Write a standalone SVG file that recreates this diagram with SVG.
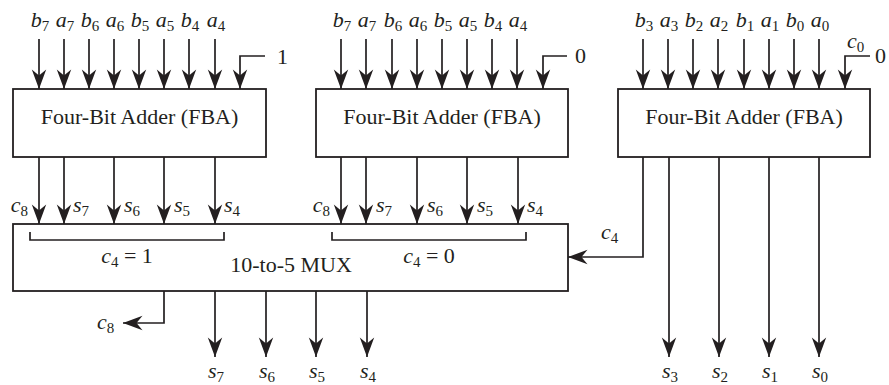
<svg xmlns="http://www.w3.org/2000/svg" width="889" height="385" viewBox="0 0 889 385" font-family="'Liberation Serif', 'Times New Roman', Times, serif">
<style>
.box{fill:#fff;stroke:#231f20;stroke-width:1.8}
.w{fill:none;stroke:#231f20;stroke-width:1.7;marker-end:url(#arr)}
.b{fill:none;stroke:#231f20;stroke-width:1.7}
text{font-size:22px;fill:#231f20}
.i{font-style:italic}
.s{font-size:15px;font-style:normal}
.m{text-anchor:middle}
.e{text-anchor:end}
</style>
<defs>
<marker id="arr" markerUnits="userSpaceOnUse" viewBox="-22 -9 24 18" refX="0" refY="0" markerWidth="24" markerHeight="18" orient="auto">
<path d="M0,0 L-19.5,-7.2 L-13.5,0 L-19.5,7.2 Z" fill="#231f20"/>
</marker>
</defs>
<g id="fba1">
<rect class="box" x="13" y="89" width="253" height="68"/>
<text class="m" x="139.5" y="124">Four-Bit Adder (FBA)</text>
</g>
<g id="fba2">
<rect class="box" x="316" y="89" width="252" height="68"/>
<text class="m" x="442" y="124">Four-Bit Adder (FBA)</text>
</g>
<g id="fba3">
<rect class="box" x="618" y="89" width="252" height="68"/>
<text class="m" x="744" y="124">Four-Bit Adder (FBA)</text>
</g>
<g id="mux">
<rect class="box" x="13" y="224" width="555" height="67"/>
<path class="b" d="M30,232 V240 H224 V232"/>
<path class="b" d="M332,232 V240 H526 V232"/>
<text class="m" x="127" y="263"><tspan class="i">c</tspan><tspan class="s" dy="4">4</tspan><tspan dy="-4"> = 1</tspan></text>
<text class="m" x="429" y="263"><tspan class="i">c</tspan><tspan class="s" dy="4">4</tspan><tspan dy="-4"> = 0</tspan></text>
<text class="m" x="291" y="272">10-to-5 MUX</text>
</g>
<g id="connectors">
<path class="w" d="M39,39V89"/><path class="w" d="M64,39V89"/><path class="w" d="M89,39V89"/><path class="w" d="M114,39V89"/>
<path class="w" d="M139,39V89"/><path class="w" d="M164,39V89"/><path class="w" d="M189,39V89"/><path class="w" d="M215,39V89"/>
<path class="w" d="M265,56 H240 V89"/>
<path class="w" d="M341,39V89"/><path class="w" d="M366,39V89"/><path class="w" d="M392,39V89"/><path class="w" d="M417,39V89"/>
<path class="w" d="M442,39V89"/><path class="w" d="M467,39V89"/><path class="w" d="M492,39V89"/><path class="w" d="M517,39V89"/>
<path class="w" d="M567,56 H543 V89"/>
<path class="w" d="M643,39V89"/><path class="w" d="M668,39V89"/><path class="w" d="M693,39V89"/><path class="w" d="M718,39V89"/>
<path class="w" d="M744,39V89"/><path class="w" d="M769,39V89"/><path class="w" d="M794,39V89"/><path class="w" d="M819,39V89"/>
<path class="w" d="M870,56 H845 V89"/>
<path class="w" d="M39,157V224"/><path class="w" d="M64,157V224"/><path class="w" d="M114,157V224"/><path class="w" d="M164,157V224"/><path class="w" d="M215,157V224"/>
<path class="w" d="M341,157V224"/><path class="w" d="M366,157V224"/><path class="w" d="M417,157V224"/><path class="w" d="M467,157V224"/><path class="w" d="M518,157V224"/>
<path class="w" d="M669,157V357"/><path class="w" d="M719,157V357"/><path class="w" d="M769,157V357"/><path class="w" d="M819,157V357"/>
<path class="w" d="M643,157 V257 H568"/>
<path class="w" d="M215,291V357"/><path class="w" d="M266,291V357"/><path class="w" d="M316,291V357"/><path class="w" d="M367,291V357"/>
<path class="w" d="M164,291 V323 H123"/>
</g>
<g id="labels" class="i">
<text class="m" x="40" y="27">b<tspan class="s" dy="4">7</tspan></text>
<text class="m" x="65" y="27">a<tspan class="s" dy="4">7</tspan></text>
<text class="m" x="90" y="27">b<tspan class="s" dy="4">6</tspan></text>
<text class="m" x="115" y="27">a<tspan class="s" dy="4">6</tspan></text>
<text class="m" x="140" y="27">b<tspan class="s" dy="4">5</tspan></text>
<text class="m" x="165" y="27">a<tspan class="s" dy="4">5</tspan></text>
<text class="m" x="190" y="27">b<tspan class="s" dy="4">4</tspan></text>
<text class="m" x="216" y="27">a<tspan class="s" dy="4">4</tspan></text>
<text x="277" y="64" font-style="normal">1</text>
<text class="m" x="342" y="27">b<tspan class="s" dy="4">7</tspan></text>
<text class="m" x="367" y="27">a<tspan class="s" dy="4">7</tspan></text>
<text class="m" x="393" y="27">b<tspan class="s" dy="4">6</tspan></text>
<text class="m" x="418" y="27">a<tspan class="s" dy="4">6</tspan></text>
<text class="m" x="443" y="27">b<tspan class="s" dy="4">5</tspan></text>
<text class="m" x="468" y="27">a<tspan class="s" dy="4">5</tspan></text>
<text class="m" x="493" y="27">b<tspan class="s" dy="4">4</tspan></text>
<text class="m" x="518" y="27">a<tspan class="s" dy="4">4</tspan></text>
<text x="575" y="63" font-style="normal">0</text>
<text class="m" x="644" y="27">b<tspan class="s" dy="4">3</tspan></text>
<text class="m" x="669" y="27">a<tspan class="s" dy="4">3</tspan></text>
<text class="m" x="694" y="27">b<tspan class="s" dy="4">2</tspan></text>
<text class="m" x="719" y="27">a<tspan class="s" dy="4">2</tspan></text>
<text class="m" x="745" y="27">b<tspan class="s" dy="4">1</tspan></text>
<text class="m" x="770" y="27">a<tspan class="s" dy="4">1</tspan></text>
<text class="m" x="795" y="27">b<tspan class="s" dy="4">0</tspan></text>
<text class="m" x="820" y="27">a<tspan class="s" dy="4">0</tspan></text>
<text x="847" y="48">c<tspan class="s" dy="4">0</tspan></text>
<text x="875" y="63" font-style="normal">0</text>
<text class="e" x="28" y="212">c<tspan class="s" dy="4">8</tspan></text>
<text x="73" y="212">s<tspan class="s" dy="4">7</tspan></text>
<text x="124" y="212">s<tspan class="s" dy="4">6</tspan></text>
<text x="174" y="212">s<tspan class="s" dy="4">5</tspan></text>
<text x="224" y="212">s<tspan class="s" dy="4">4</tspan></text>
<text class="e" x="330" y="212">c<tspan class="s" dy="4">8</tspan></text>
<text x="376" y="212">s<tspan class="s" dy="4">7</tspan></text>
<text x="427" y="212">s<tspan class="s" dy="4">6</tspan></text>
<text x="477" y="212">s<tspan class="s" dy="4">5</tspan></text>
<text x="527" y="212">s<tspan class="s" dy="4">4</tspan></text>
<text x="601" y="239">c<tspan class="s" dy="4">4</tspan></text>
<text x="97" y="329">c<tspan class="s" dy="4">8</tspan></text>
<text class="m" x="216" y="378">s<tspan class="s" dy="4">7</tspan></text>
<text class="m" x="267" y="378">s<tspan class="s" dy="4">6</tspan></text>
<text class="m" x="317" y="378">s<tspan class="s" dy="4">5</tspan></text>
<text class="m" x="368" y="378">s<tspan class="s" dy="4">4</tspan></text>
<text class="m" x="670" y="378">s<tspan class="s" dy="4">3</tspan></text>
<text class="m" x="720" y="378">s<tspan class="s" dy="4">2</tspan></text>
<text class="m" x="770" y="378">s<tspan class="s" dy="4">1</tspan></text>
<text class="m" x="820" y="378">s<tspan class="s" dy="4">0</tspan></text>
</g>
</svg>
